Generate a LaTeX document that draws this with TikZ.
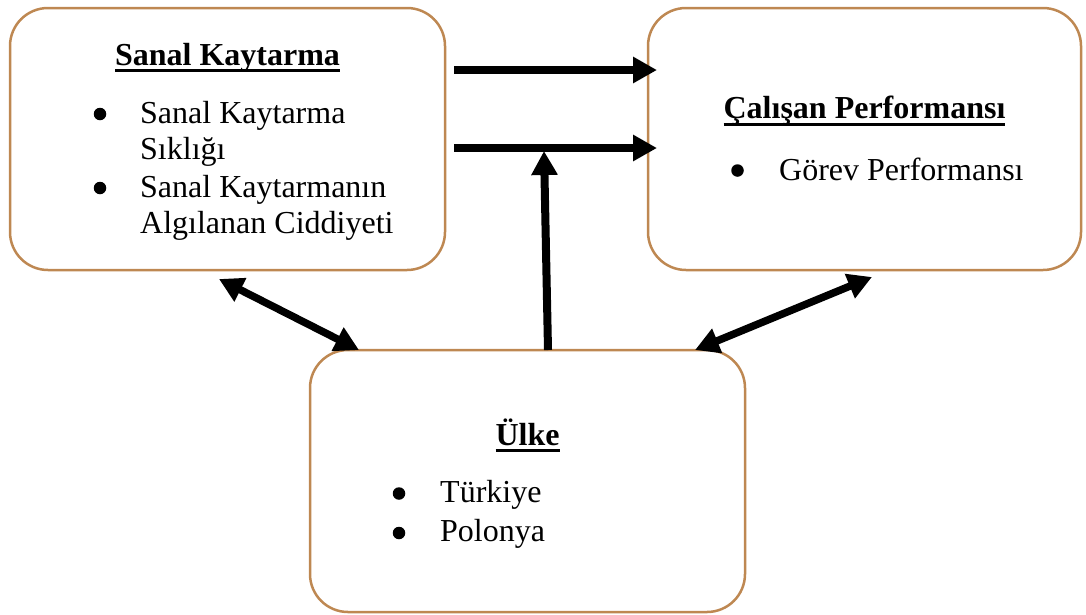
\documentclass[tikz,border=0pt]{standalone}
\usepackage{fontspec}
\setmainfont{Liberation Serif}
\newcommand\myul[1]{\setbox0\hbox{#1}\rlap{\rule[-7pt]{\wd0}{3pt}}\box0}
\usetikzlibrary{arrows.meta}
\definecolor{boxbrown}{RGB}{190,136,82}
\tikzset{
  panel/.style={draw=boxbrown, line width=2.5pt, rounded corners=38pt, inner sep=0pt, minimum height=262pt},
  txt/.style={inner sep=0pt, anchor=base west, font=\fontsize{32}{37}\selectfont},
  ttl/.style={inner sep=0pt, anchor=base, font=\fontsize{32}{37}\selectfont\bfseries},
  bul/.style={circle, fill=black, inner sep=0pt, minimum size=12.5pt},
  fat/.style={line width=8pt, -{Triangle[length=24pt,width=25pt]}},
  fatboth/.style={line width=7.5pt, {Triangle[length=24pt,width=25pt]}-{Triangle[length=24pt,width=25pt]}}
}
\begin{document}
\begin{tikzpicture}[x=1pt,y=-1pt]
\useasboundingbox (0,0) rectangle (1086,614);
% boxes
\node[panel, minimum width=435pt] (b1) at (227.5,139) {};
\node[panel, minimum width=433pt] (b2) at (864.5,139) {};
\node[panel, minimum width=435pt] (b3) at (527.5,481) {};
% box 1 text
\node[ttl] (t1) at (227.5,65) {\myul{Sanal Kaytarma}};
\node[bul] (u11) at (100,114) {};
\node[txt] (l11) at (140,123) {Sanal Kaytarma};
\node[txt] (l12) at (140,159) {Sıklığı};
\node[bul] (u12) at (100,188) {};
\node[txt] (l13) at (140,197) {Sanal Kaytarmanın};
\node[txt] (l14) at (140,233) {Algılanan Ciddiyeti};
% box 2 text
\node[ttl] (t2) at (864.5,118.5) {\myul{Çalışan Performansı}};
\node[bul] (u21) at (737.5,170.5) {};
\node[txt] (l21) at (779,180) {Görev Performansı};
% box 3 text
\node[ttl] (t3) at (527.5,445) {\myul{Ülke}};
\node[bul] (u31) at (399,493.5) {};
\node[txt] (l31) at (440,502) {Türkiye};
\node[bul] (u32) at (399,533) {};
\node[txt] (l32) at (440,541) {Polonya};
% connector end points
\coordinate (a1s) at (454,70);
\coordinate (a1e) at (657,70);
\coordinate (a2s) at (454,148);
\coordinate (a2e) at (657,148);
\coordinate (vs) at (548,350);
\coordinate (ve) at (544,151);
\coordinate (ls) at (219,279);
\coordinate (le) at (359,350);
\coordinate (rs) at (872,277);
\coordinate (re) at (695,350);
% arrows
\draw[fat] (a1s) -- (a1e);
\draw[fat] (a2s) -- (a2e);
\draw[fat] (vs) -- (ve);
\draw[fatboth] (ls) -- (le);
\draw[fatboth] (rs) -- (re);
\end{tikzpicture}
\end{document}
